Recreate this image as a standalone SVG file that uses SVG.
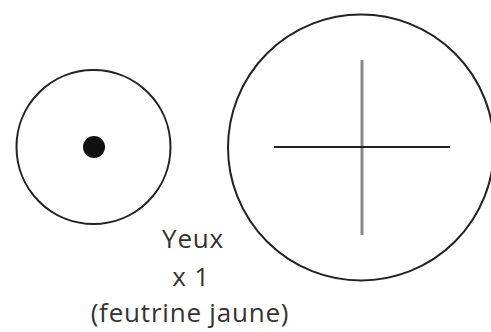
<svg xmlns="http://www.w3.org/2000/svg" width="491" height="332" viewBox="0 0 491 332">
<style>
.ring{fill:none;stroke:#222;stroke-width:2}
.lbl{font-family:"Open Sans","Noto Sans",sans-serif;font-size:26px;letter-spacing:0.8px;fill:#333;text-anchor:middle}
</style>
<rect width="491" height="332" fill="#fff"/>
<g id="small-eye">
<circle class="ring" cx="93.5" cy="147" r="77"/>
<circle cx="94" cy="147" r="11" fill="#111"/>
</g>
<g id="large-eye">
<circle class="ring" cx="361" cy="147.5" r="133"/>
<line x1="362" y1="60" x2="362" y2="235" stroke="#888" stroke-width="3"/>
<line x1="274" y1="147" x2="450" y2="147" stroke="#222" stroke-width="2"/>
</g>
<g id="label">
<text class="lbl" x="193" y="248">Yeux</text>
<text class="lbl" x="191" y="286">x 1</text>
<text class="lbl" x="190" y="322">(feutrine jaune)</text>
</g>
</svg>
